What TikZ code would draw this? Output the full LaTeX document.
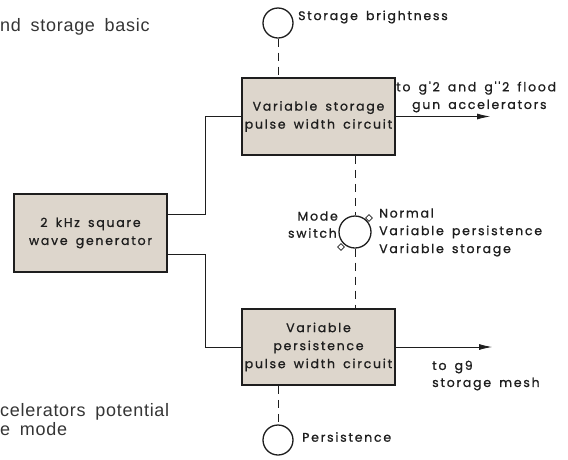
\documentclass[tikz,border=0pt]{standalone}
\usepackage{fontspec}
\setmainfont{Poppins}
\newfontfamily\diag[LetterSpace=14,FakeBold=0.9,WordSpace=1.6]{Poppins}
\newfontfamily\bgfont[LetterSpace=4,WordSpace=1.7]{Liberation Sans}
\usetikzlibrary{arrows.meta,shapes.geometric}
\definecolor{boxfill}{HTML}{DDD6CC}
\definecolor{ink}{HTML}{1E1E1E}
\begin{document}
\begin{tikzpicture}[x=1pt,y=-1pt,
  blk/.style={draw=ink,line width=1.8pt,fill=boxfill,rectangle,minimum width=153pt,inner sep=0pt,align=center,font=\diag\fontsize{12.5}{18}\selectfont,text=ink},
  knob/.style={draw=ink,line width=1.3pt,circle,minimum size=30pt,inner sep=0pt},
  wire/.style={draw=ink,line width=0.8pt},
  ctl/.style={draw=ink,line width=0.8pt,dash pattern=on 8pt off 6pt},
  outarrow/.style={wire,-{Latex[length=13pt,width=6pt]}},
  lbl/.style={font=\diag\fontsize{12.5}{12}\selectfont,text=ink,inner sep=0pt,anchor=west},
  lble/.style={lbl,anchor=east},
  bgtext/.style={font=\bgfont\fontsize{18}{17}\selectfont,text=ink!90,inner sep=0pt,anchor=west},
  tick/.style={draw=ink,line width=0.8pt,fill=white,diamond,minimum size=7pt,inner sep=0pt}
]
\useasboundingbox[fill=white] (0,0) rectangle (568,459);

% partial page text
\node[bgtext] (bg1) at (0,27) {nd storage basic};
\node[bgtext] (bg2) at (0,412) {celerators potential};
\node[bgtext] (bg3) at (0,429) {e mode};

% blocks
\node[blk,minimum height=78pt] (gen) at (90.5,233) {\fontsize{12.5}{18}\selectfont 2 kHz square\\wave generator};
\node[blk,minimum height=77pt] (vs) at (318.5,116.5) {\fontsize{12.5}{21}\selectfont Variable storage\\pulse width circuit};
\node[blk,minimum height=76pt] (vp) at (318.5,347) {\fontsize{12.5}{15.5}\selectfont Variable\\persistence\\pulse width circuit};

% controls
\node[knob] (sb) at (278,23) {};
\node[knob,minimum size=32pt] (mode) at (355,232) {};
\node[knob] (pers) at (278,440) {};
\node[tick] (t1) at (369,218) {};
\node[tick] (t2) at (341,247) {};

% wires
\draw[wire] ([yshift=19pt]gen.east) -- ++(37,0) |- (vs.west);
\draw[wire] ([yshift=-21pt]gen.east) -- ++(37,0) |- (vp.west);

\coordinate (o1) at (490,116.5);
\coordinate (o2) at (492,347);
\draw[outarrow] (vs.east) -- (o1);
\draw[outarrow] (vp.east) -- (o2);

% dashed mechanical links
\draw[ctl] (sb.south) -- (sb.south |- vs.north);
\draw[ctl] (mode.north |- vs.south) -- (mode.north);
\draw[ctl] (mode.south) -- (mode.south |- vp.north);
\draw[ctl] (pers.north |- vp.south) -- (pers.north);

% labels
\node[lbl] (lsb) at (298,17) {Storage brightness};
\node[lbl] (lo1a) at (396,88) {to g'2 and g''2 flood};
\node[lbl] (lo1b) at (412,106) {gun accelerators};
\node[lbl] (lo2a) at (432,367) {to g9};
\node[lbl] (lo2b) at (432,384) {storage mesh};
\node[lbl] (lpers) at (302,437) {Persistence};
\node[lble] (lm1) at (338,216) {Mode};
\node[lble] (lm2) at (337,233) {switch};
\node[lbl] (n1) at (379,213) {Normal};
\node[lbl] (n2) at (379,232) {Variable persistence};
\node[lbl] (n3) at (379,250) {Variable storage};
\end{tikzpicture}
\end{document}
